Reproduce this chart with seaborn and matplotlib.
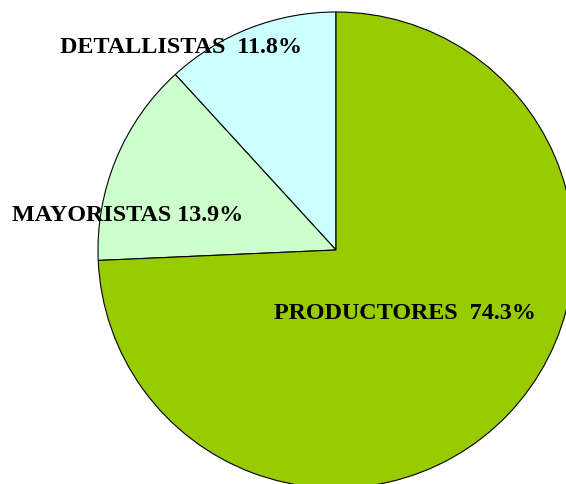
import matplotlib
matplotlib.use("Agg")
import matplotlib.pyplot as plt
import seaborn as sns

sns.set_style("white")
plt.rcParams['font.family'] = ['Liberation Serif', 'DejaVu Serif']

# Datos del gráfico
categorias = ['DETALLISTAS', 'MAYORISTAS', 'PRODUCTORES']
porcentajes = [11.8, 13.9, 74.3]
etiquetas = ['DETALLISTAS  11.8%', 'MAYORISTAS 13.9%', 'PRODUCTORES  74.3%']
colores = ['#CCFFFF', '#CCFFCC', '#99CC00']

# Posiciones de las etiquetas (coordenadas del eje, radio = 1)
pos_etiquetas = [(-0.651, 0.849), (-0.877, 0.143), (0.290, -0.265)]

fig = plt.figure(figsize=(5.66, 4.84), dpi=100)
ax = fig.add_axes([0, 0, 1, 1])

ax.pie(porcentajes, colors=colores, startangle=90, counterclock=True,
       radius=1, wedgeprops={'edgecolor': 'black', 'linewidth': 0.8})

for texto, (x, y) in zip(etiquetas, pos_etiquetas):
    ax.text(x, y, texto, ha='center', va='center', fontsize=17.4,
            fontweight='bold', color='black')

ax.set_xlim(-1.4118, 0.9664)
ax.set_ylim(-0.9832, 1.0504)
ax.set_aspect('equal')
ax.axis('off')

fig.savefig('out.png', dpi=100, facecolor='white')
